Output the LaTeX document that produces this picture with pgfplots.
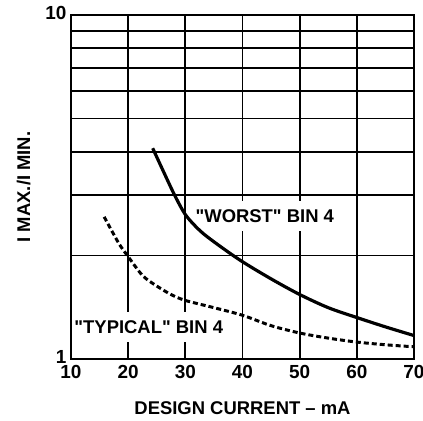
\documentclass[border=0pt]{standalone}
\usepackage{fontspec}
\setmainfont{Liberation Sans}
\usepackage{pgfplots}
\pgfplotsset{compat=1.18}
\begin{document}
\begin{tikzpicture}
\begin{axis}[
    scale only axis,
    width=343bp, height=344bp,
    xmin=10, xmax=70,
    ymode=log, ymin=1, ymax=10,
    xtick={10,20,...,70},
    ytick={1,10},
    yticklabels={1,10},
    grid=both,
    major grid style={black, line width=1.7pt},
    minor grid style={black, line width=1.7pt},
    axis line style={black, line width=1.8pt},
    major tick length=0pt, minor tick length=0pt,
    /pgf/number format/assume math mode=true,
    tick label style={font=\fontsize{19}{19}\selectfont\bfseries},
    xticklabel style={yshift=-3bp},
    yticklabel style={yshift=2bp, xshift=-1bp},
    label style={font=\fontsize{18.5}{18.5}\selectfont\bfseries},
    xlabel={DESIGN CURRENT -- mA},
    ylabel={I MAX./I MIN.},
    xlabel style={yshift=-16bp},
    ylabel style={yshift=8bp},
    clip=false,
]
\coordinate (bl) at (rel axis cs:0,0);
\coordinate (tr) at (rel axis cs:1,1);
\node[fill=white, inner xsep=2bp, inner ysep=0pt, minimum height=30bp,
      font=\fontsize{18.5}{18.5}\selectfont\bfseries] at (axis cs:43.9,2.6) {\textquotedbl WORST\textquotedbl\ BIN 4};
\node[fill=white, inner xsep=2bp, inner ysep=0pt, minimum height=30bp,
      font=\fontsize{18.5}{18.5}\selectfont\bfseries] at (axis cs:23.6,1.235) {\textquotedbl TYPICAL\textquotedbl\ BIN 4};
% worst case
\addplot[black, line width=3.2pt, smooth] coordinates {
    (24.29,4.10) (26.27,3.48) (28.19,2.98) (30.07,2.62)
    (32.57,2.36) (35.19,2.18) (39.74,1.93) (45,1.71)
    (50,1.54) (55,1.41) (60,1.32) (65,1.24) (70,1.17)
};
% typical
\addplot[black, line width=3pt, smooth, dash pattern=on 5bp off 3bp] coordinates {
    (15.8,2.59) (17,2.38) (18.5,2.15) (19.85,2.00) (22.5,1.75) (25,1.63)
    (27.5,1.54) (30,1.48) (35,1.41) (40,1.34) (45,1.25) (50,1.19)
    (55,1.15) (60,1.12) (65,1.10) (70,1.085)
};
\end{axis}
\pgfresetboundingbox
\path ([shift={(-71bp,-62bp)}]bl) rectangle ([shift={(9bp,15bp)}]tr);
\end{tikzpicture}
\end{document}
